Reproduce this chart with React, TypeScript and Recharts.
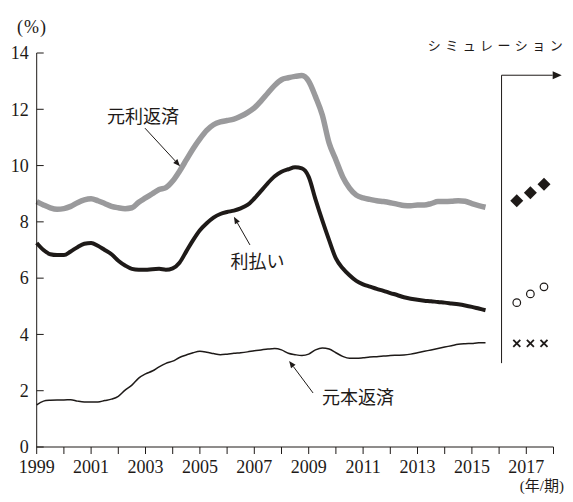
import { ComposedChart, Line, Scatter, XAxis, YAxis, ReferenceLine, ReferenceDot } from "recharts";

const START_YEAR = 1999; // first quarter plotted at 1999.0, one point per quarter

// 元利返済 (gray, thick)
const repayTotal = [
  8.72, 8.6, 8.5, 8.45, 8.47, 8.55, 8.68, 8.78, 8.82, 8.75, 8.65, 8.55,
  8.5, 8.47, 8.5, 8.7, 8.85, 9.0, 9.15, 9.22, 9.45, 9.8, 10.2, 10.6,
  10.95, 11.25, 11.45, 11.55, 11.6, 11.65, 11.75, 11.88, 12.05, 12.3, 12.58, 12.85,
  13.05, 13.12, 13.17, 13.2, 13.0, 12.45, 11.8, 10.8, 10.2, 9.6, 9.2, 8.95,
  8.85, 8.8, 8.75, 8.72, 8.68, 8.63, 8.58, 8.57, 8.6, 8.6, 8.65, 8.72,
  8.72, 8.73, 8.75, 8.73, 8.65, 8.58, 8.52,
];
// 利払い (black, thick)
const interest = [
  7.25, 7.0, 6.85, 6.82, 6.82, 6.95, 7.1, 7.22, 7.25, 7.15, 7.0, 6.85,
  6.62, 6.45, 6.33, 6.3, 6.3, 6.32, 6.33, 6.3, 6.35, 6.55, 6.95, 7.35,
  7.7, 7.95, 8.15, 8.28, 8.35, 8.4, 8.48, 8.6, 8.83, 9.1, 9.38, 9.62,
  9.78, 9.87, 9.94, 9.9, 9.6, 8.8, 8.05, 7.35, 6.7, 6.35, 6.1, 5.9,
  5.78, 5.7, 5.62, 5.55, 5.47, 5.4, 5.32, 5.27, 5.23, 5.2, 5.18, 5.15,
  5.13, 5.1, 5.07, 5.03, 4.98, 4.92, 4.86,
];
// 元本返済 (black, thin)
const principal = [
  1.5, 1.63, 1.66, 1.67, 1.67, 1.68, 1.63, 1.6, 1.6, 1.6, 1.65, 1.7,
  1.8, 2.02, 2.2, 2.45, 2.6, 2.7, 2.85, 2.97, 3.05, 3.18, 3.27, 3.35,
  3.4, 3.37, 3.32, 3.28, 3.3, 3.33, 3.35, 3.38, 3.42, 3.45, 3.48, 3.5,
  3.45, 3.33, 3.28, 3.25, 3.3, 3.45, 3.52, 3.48, 3.35, 3.22, 3.15, 3.15,
  3.17, 3.2, 3.21, 3.23, 3.25, 3.26, 3.27, 3.3, 3.35, 3.4, 3.45, 3.5,
  3.55, 3.6, 3.65, 3.67, 3.68, 3.7, 3.7,
];

// シミュレーション markers
const simX = [2016.65, 2017.15, 2017.65];
const simTotal = [8.75, 9.03, 9.34];
const simInterest = [5.13, 5.44, 5.69];
const simPrincipal = [3.68, 3.68, 3.68];

const yearTicks = [
  1999, 2000, 2001, 2002, 2003, 2004, 2005, 2006, 2007, 2008,
  2009, 2010, 2011, 2012, 2013, 2014, 2015, 2016, 2017, 2018,
];
const yTicks = [0, 2, 4, 6, 8, 10, 12, 14];

const INK = "#1e1a18";
const GRAY = "#9a9a9c";
const SERIF = "'Liberation Serif', 'DejaVu Serif'";
const JP = "'Noto Sans CJK JP'";

const quarterly = (vals: number[]) => vals.map((v, i) => ({ x: START_YEAR + i * 0.25, v }));
const sim = (vals: number[]) => vals.map((v, i) => ({ x: simX[i], v }));

function YTick({ x, y, payload }: any) {
  return (
    <g>
      <line x1={x + 8} x2={x + 15} y1={y} y2={y} stroke={INK} strokeWidth={1} />
      <text x={x} y={y} dy="0.35em" textAnchor="end" fontFamily={SERIF} fontSize={18} fill={INK}>
        {payload.value}
      </text>
    </g>
  );
}

function XTick({ x, y, payload }: any) {
  if ((payload.value - START_YEAR) % 2 !== 0) return <g />;
  return (
    <text x={x} y={y} dy="0.71em" textAnchor="middle" fontFamily={SERIF} fontSize={18} fill={INK}>
      {payload.value}
    </text>
  );
}

// line with a filled arrow head at its second point
function arrowShape(len: number, half: number) {
  return (p: any) => {
    const { x1, y1, x2, y2 } = p;
    const a = Math.atan2(y2 - y1, x2 - x1);
    const bx = x2 - len * Math.cos(a);
    const by = y2 - len * Math.sin(a);
    const nx = -Math.sin(a) * half;
    const ny = Math.cos(a) * half;
    return (
      <g>
        <line x1={x1} y1={y1} x2={bx} y2={by} stroke={INK} strokeWidth={1} />
        <polygon points={`${x2},${y2} ${bx + nx},${by + ny} ${bx - nx},${by - ny}`} fill={INK} />
      </g>
    );
  };
}

function labelShape(text: string, size = 18, spacing = 0) {
  return (p: any) => (
    <text
      x={p.cx}
      y={p.cy}
      dy="0.35em"
      textAnchor="middle"
      fontFamily={JP}
      fontSize={size}
      fill={INK}
      style={{ letterSpacing: spacing }}
    >
      {text}
    </text>
  );
}

const Diamond = (p: any) => (
  <polygon
    points={`${p.cx},${p.cy - 6.5} ${p.cx + 6.5},${p.cy} ${p.cx},${p.cy + 6.5} ${p.cx - 6.5},${p.cy}`}
    fill={INK}
  />
);
const OpenCircle = (p: any) => <circle cx={p.cx} cy={p.cy} r={3.8} fill="#fff" stroke={INK} strokeWidth={1.2} />;
const Cross = (p: any) => (
  <g stroke={INK} strokeWidth={1.8}>
    <line x1={p.cx - 3.5} y1={p.cy - 3.5} x2={p.cx + 3.5} y2={p.cy + 3.5} />
    <line x1={p.cx - 3.5} y1={p.cy + 3.5} x2={p.cx + 3.5} y2={p.cy - 3.5} />
  </g>
);

const SIM_LINE_X = 2016.09;
const SIM_TOP = 13.21;

export default function App() {
  // cancel the body margin so the page is exactly 573x502 (no scrollbars)
  return (
    <div style={{ position: "relative", margin: -8, width: 573, height: 502, overflow: "hidden" }}>
      <div style={{ position: "absolute", left: 8, top: 8 }}>
        <ComposedChart width={565} height={494} margin={{ top: 45, right: 19.5, bottom: 15, left: 0 }}>
          <XAxis
            dataKey="x"
            type="number"
            domain={[1999, 2018]}
            ticks={yearTicks}
            interval={0}
            height={40}
            tickSize={7}
            tickMargin={6}
            stroke={INK}
            tickLine={{ stroke: INK }}
            tick={<XTick />}
          />
          <YAxis
            type="number"
            domain={[0, 14]}
            ticks={yTicks}
            width={28.7}
            tickSize={0}
            tickMargin={8}
            tickLine={false}
            stroke={INK}
            tick={<YTick />}
          />

          <Line data={quarterly(repayTotal)} dataKey="v" type="monotone" stroke={GRAY} strokeWidth={5.5} dot={false} isAnimationActive={false} />
          <Line data={quarterly(interest)} dataKey="v" type="monotone" stroke={INK} strokeWidth={4} dot={false} isAnimationActive={false} />
          <Line data={quarterly(principal)} dataKey="v" type="monotone" stroke={INK} strokeWidth={1.5} dot={false} isAnimationActive={false} />

          <Scatter data={sim(simTotal)} dataKey="v" shape={Diamond} isAnimationActive={false} />
          <Scatter data={sim(simInterest)} dataKey="v" shape={OpenCircle} isAnimationActive={false} />
          <Scatter data={sim(simPrincipal)} dataKey="v" shape={Cross} isAnimationActive={false} />

          {/* simulation bracket */}
          <ReferenceLine
            segment={[{ x: SIM_LINE_X, y: 2.98 }, { x: SIM_LINE_X, y: SIM_TOP }]}
            stroke={INK}
            strokeWidth={1}
            ifOverflow="visible"
          />
          <ReferenceLine
            segment={[{ x: SIM_LINE_X, y: SIM_TOP }, { x: 2018.3, y: SIM_TOP }]}
            ifOverflow="visible"
            shape={arrowShape(9, 4)}
          />
          <ReferenceDot x={2015.94} y={14.28} r={0} ifOverflow="visible" shape={labelShape("シミュレーション", 13, 4.5)} />

          {/* series annotations */}
          <ReferenceLine segment={[{ x: 2002.98, y: 11.33 }, { x: 2004.27, y: 9.98 }]} ifOverflow="visible" shape={arrowShape(7, 2.8)} />
          <ReferenceDot x={2002.91} y={11.73} r={0} ifOverflow="visible" shape={labelShape("元利返済")} />
          <ReferenceLine segment={[{ x: 2006.84, y: 7.18 }, { x: 2006.25, y: 8.18 }]} ifOverflow="visible" shape={arrowShape(7, 2.8)} />
          <ReferenceDot x={2007.12} y={6.58} r={0} ifOverflow="visible" shape={labelShape("利払い")} />
          <ReferenceLine segment={[{ x: 2009.16, y: 1.92 }, { x: 2008.28, y: 3.06 }]} ifOverflow="visible" shape={arrowShape(7, 2.8)} />
          <ReferenceDot x={2010.81} y={1.74} r={0} ifOverflow="visible" shape={labelShape("元本返済")} />

          {/* axis unit labels */}
          <text x={9} y={19} dy="0.35em" fontFamily={SERIF} fontSize={18} fill={INK} style={{ letterSpacing: 1 }}>
            (%)
          </text>
          <text x={556} y={478} dy="0.35em" textAnchor="end" fontFamily={`${SERIF}, ${JP}`} fontSize={15} fill={INK}>
            (年/期)
          </text>
        </ComposedChart>
      </div>
    </div>
  );
}
